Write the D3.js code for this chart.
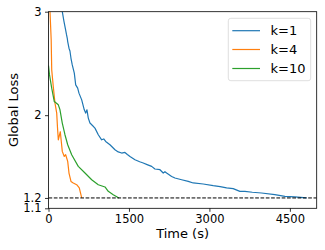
<!DOCTYPE html>
<html><head><meta charset="utf-8">
<script src="https://cdn.jsdelivr.net/npm/d3@7"></script>
<style>body{margin:0;background:#fff}svg{display:block}text{font-family:"DejaVu Sans",sans-serif}</style>
</head><body><svg id="c" width="325" height="250"></svg>
<script>
const seriesNames = ["k=1","k=4","k=10"];
const colors = ["#1f77b4","#ff7f0e","#2ca02c"];
const k1 = [[210,3.12],[257,3.0],[289,2.904],[320,2.823],[335,2.78],[350,2.743],[358,2.711],[382,2.647],[400,2.62],[419,2.55],[443,2.486],[481,2.406],[507,2.293],[544,2.261],[568,2.213],[619,2.148],[667,2.052],[693,2.02],[717,2.052],[742,1.972],[773,1.924],[820,1.90],[866,1.875],[928,1.811],[991,1.762],[1030,1.77],[1066,1.746],[1146,1.714],[1239,1.666],[1300,1.645],[1364,1.634],[1425,1.64],[1470,1.62],[1519,1.601],[1612,1.569],[1700,1.55],[1766,1.538],[1850,1.52],[1923,1.505],[1984,1.48],[2078,1.473],[2139,1.441],[2171,1.454],[2202,1.441],[2296,1.408],[2357,1.393],[2482,1.376],[2605,1.36],[2698,1.345],[2884,1.335],[3071,1.319],[3200,1.31],[3320,1.297],[3443,1.29],[3568,1.264],[3661,1.264],[3800,1.255],[3972,1.248],[4220,1.232],[4407,1.215],[4593,1.21],[4811,1.2]];
const k4 = [[0,3.4],[28,3.0],[50,2.73],[60,2.438],[89,2.277],[121,2.116],[153,2.02],[168,1.878],[183,1.762],[220,1.84],[257,1.65],[294,1.601],[320,1.618],[358,1.553],[382,1.441],[419,1.36],[462,1.345],[525,1.328],[574,1.297],[619,1.2]];
const k10 = [[0,2.48],[19,2.389],[60,2.261],[108,2.132],[183,2.1],[214,2.052],[257,1.924],[307,1.811],[358,1.714],[432,1.618],[555,1.505],[680,1.441],[805,1.376],[928,1.328],[1053,1.306],[1114,1.264],[1207,1.232],[1289,1.206],[1314,1.2]];
const xTicks = [0,1500,3000,4500];
const yTicks = [1.1,1.2,2,3];
const threshold = 1.2;

const svg = d3.select("#c");
const L=48.5,R=316.7,T=11.7,B=208.3;
const x = d3.scaleLinear().domain([0,5000]).range([L,R]);
const y = d3.scaleLinear().domain([1.1,3]).range([B,T]);

svg.append("clipPath").attr("id","clip").append("rect").attr("x",L).attr("y",T).attr("width",R-L).attr("height",B-T);

const line = d3.line().x(d=>x(d[0])).y(d=>y(d[1]));
const g = svg.append("g").attr("clip-path","url(#clip)");
[k1,k4,k10].forEach((s,i)=>{
  g.append("path").datum(s).attr("d",line).attr("fill","none").attr("stroke",colors[i]).attr("stroke-width",1.2).attr("stroke-linejoin","round");
});
g.append("line").attr("x1",L).attr("x2",R).attr("y1",y(threshold)).attr("y2",y(threshold))
 .attr("stroke","#000").attr("stroke-width",1).attr("stroke-dasharray","3.7,1.6");

const xa = svg.append("g").attr("transform",`translate(0,${B})`).call(d3.axisBottom(x).tickValues(xTicks).tickSize(3.5).tickPadding(3.5).tickFormat(d3.format("d")));
const ya = svg.append("g").attr("transform",`translate(${L},0)`).call(d3.axisLeft(y).tickValues(yTicks).tickSize(3.5).tickPadding(3.5).tickFormat(d=>String(d)));
[xa,ya].forEach(a=>{a.select(".domain").remove();a.selectAll("text").attr("font-size","11.5px").attr("fill","#000").attr("font-family","DejaVu Sans");a.selectAll("line").attr("stroke","#000").attr("stroke-width",0.8);});

svg.append("rect").attr("x",L).attr("y",T).attr("width",R-L).attr("height",B-T).attr("fill","none").attr("stroke","#000").attr("stroke-width",0.8);

svg.append("text").attr("x",(L+R)/2).attr("y",238).attr("text-anchor","middle").attr("font-size","13px").text("Time (s)");
svg.append("text").attr("transform",`translate(18,${(T+B)/2}) rotate(-90)`).attr("text-anchor","middle").attr("font-size","13px").text("Global Loss");

const lg = svg.append("g");
lg.append("rect").attr("x",228.3).attr("y",18.3).attr("width",82.4).attr("height",62.4).attr("rx",2.5).attr("fill","#fff").attr("fill-opacity",0.8).attr("stroke","#d6d6d6").attr("stroke-width",0.8);
const ly=[30.7,49.5,68.5];
seriesNames.forEach((n,i)=>{
  lg.append("line").attr("x1",232.3).attr("x2",260).attr("y1",ly[i]).attr("y2",ly[i]).attr("stroke",colors[i]).attr("stroke-width",1.2);
  lg.append("text").attr("x",270.5).attr("y",ly[i]+4.6).attr("font-size","13px").text(n);
});
</script></body></html>
